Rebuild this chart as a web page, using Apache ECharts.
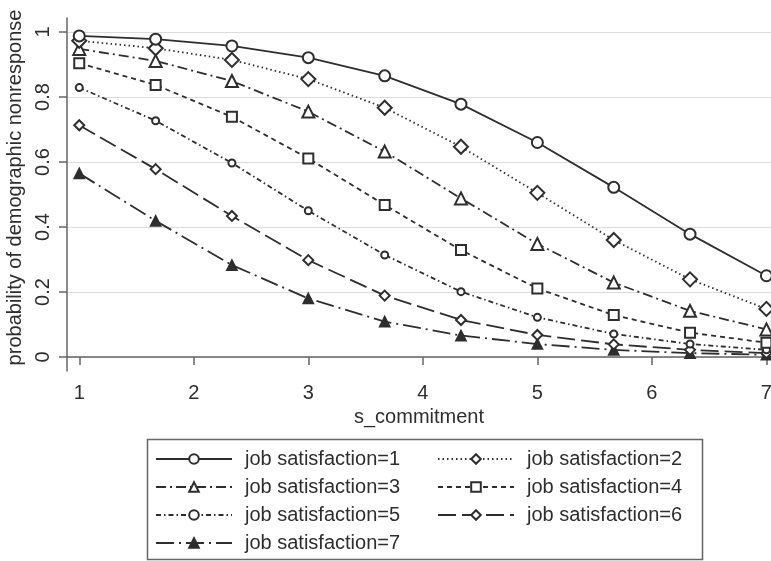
<!DOCTYPE html>
<html>
<head>
<meta charset="utf-8">
<script src="https://cdn.jsdelivr.net/npm/echarts@6/dist/echarts.min.js"></script>
<style>
  html, body { margin: 0; padding: 0; background: #fff; }
  #chart { width: 771px; height: 561px; }
</style>
</head>
<body>
<div id="chart"></div>
<script>
// ── Data ───────────────────────────────────────────────
const xVals = [1, 1.667, 2.333, 3, 3.667, 4.333, 5, 5.667, 6.333, 7];
const xTicks = [1, 2, 3, 4, 5, 6, 7];
const yTicks = [0, 0.2, 0.4, 0.6, 0.8, 1];

const names = [
  'job satisfaction=1', 'job satisfaction=2', 'job satisfaction=3',
  'job satisfaction=4', 'job satisfaction=5', 'job satisfaction=6',
  'job satisfaction=7'
];

const sat1 = [0.988, 0.978, 0.957, 0.921, 0.865, 0.778, 0.660, 0.522, 0.378, 0.250];
const sat2 = [0.973, 0.950, 0.914, 0.855, 0.767, 0.647, 0.505, 0.360, 0.239, 0.148];
const sat3 = [0.948, 0.911, 0.849, 0.755, 0.632, 0.488, 0.348, 0.229, 0.142, 0.085];
const sat4 = [0.904, 0.837, 0.739, 0.611, 0.468, 0.329, 0.211, 0.129, 0.075, 0.044];
const sat5 = [0.829, 0.727, 0.597, 0.450, 0.314, 0.201, 0.122, 0.071, 0.040, 0.022];
const sat6 = [0.713, 0.578, 0.434, 0.298, 0.189, 0.114, 0.068, 0.039, 0.022, 0.012];
const sat7 = [0.565, 0.419, 0.283, 0.180, 0.109, 0.066, 0.040, 0.022, 0.012, 0.007];

// ── Styles ─────────────────────────────────────────────
const INK   = '#2e2e2e';
const FONT  = "'Liberation Sans', Arial, sans-serif";

const styles = [
  { data: sat1, symbol: 'emptyCircle',   size: 11, dash: 'solid' },
  { data: sat2, symbol: 'emptyDiamond',  size: 14, dash: [1.5, 3] },
  { data: sat3, symbol: 'emptyTriangle', size: 12, dash: [10, 4, 2, 4] },
  { data: sat4, symbol: 'emptyRect',     size: 10, dash: [5, 4] },
  { data: sat5, symbol: 'emptyCircle',   size: 7,  dash: [5, 3, 1.5, 3] },
  { data: sat6, symbol: 'emptyDiamond',  size: 10, dash: [18, 6] },
  { data: sat7, symbol: 'triangle',      size: 10, dash: [18, 5, 2, 5] },
];

const series = styles.map((s, i) => ({
  name: names[i],
  type: 'line',
  data: s.data.map((v, j) => [xVals[j], v]),
  symbol: s.symbol,
  symbolSize: s.size,
  showAllSymbol: true,
  color: INK,
  lineStyle: { color: INK, width: 1.8, type: s.dash },
  itemStyle: { color: INK, borderColor: INK, borderWidth: 1.7 },
  emphasis: { disabled: true },
  animation: false,
  z: 10 - i,
}));

const legendCommon = {
  orient: 'vertical',
  top: 449,
  height: 110,
  padding: 0,
  itemWidth: 76,
  itemHeight: 12,
  itemGap: 8,
  selectedMode: false,
  textStyle: { fontFamily: FONT, fontSize: 20, color: INK, padding: [0, 0, 0, 8] },
};

const chart = echarts.init(document.getElementById('chart'));
chart.setOption({
  backgroundColor: '#fff',
  animation: false,
  grid: { left: 67, right: 0, top: 18, bottom: 190, outerBoundsMode: 'none', containLabel: false },
  xAxis: {
    type: 'value',
    min: 0.893,
    max: 7.04,
    name: 's_commitment',
    nameLocation: 'middle',
    nameGap: 26,
    nameTextStyle: { fontFamily: FONT, fontSize: 20, color: INK },
    axisLine: { lineStyle: { color: '#666', width: 1.5 } },
    axisTick: { show: true, length: 8, customValues: xTicks, lineStyle: { color: '#666', width: 1.5 } },
    axisLabel: { customValues: xTicks, margin: 12, fontFamily: FONT, fontSize: 20, color: INK },
    splitLine: { show: false },
  },
  yAxis: {
    type: 'value',
    min: -0.043,
    max: 1.043,
    name: 'probability of demographic nonresponse',
    nameLocation: 'middle',
    nameGap: 37,
    nameTextStyle: { fontFamily: FONT, fontSize: 20, color: INK, padding: [0, 0, 0, 14] },
    axisLine: { show: true, lineStyle: { color: '#666', width: 1.5 } },
    axisTick: { show: true, length: 8, customValues: yTicks, lineStyle: { color: '#666', width: 1.5 } },
    axisLabel: { customValues: yTicks, rotate: 90, margin: 14, fontFamily: FONT, fontSize: 20, color: INK },
    splitLine: { show: true, lineStyle: { color: '#dcdcdc', width: 1 } },
  },
  legend: [
    Object.assign({ left: 155, data: [names[0], names[2], names[4], names[6]] }, legendCommon),
    Object.assign({ left: 437, data: [names[1], names[3], names[5]] }, legendCommon),
  ],
  graphic: [{
    type: 'rect',
    left: 145, top: 437,
    shape: { width: 555, height: 120 },
    style: { fill: 'none', stroke: '#666', lineWidth: 1.5 },
    silent: true,
  }],
  series: series,
});
</script>
</body>
</html>
